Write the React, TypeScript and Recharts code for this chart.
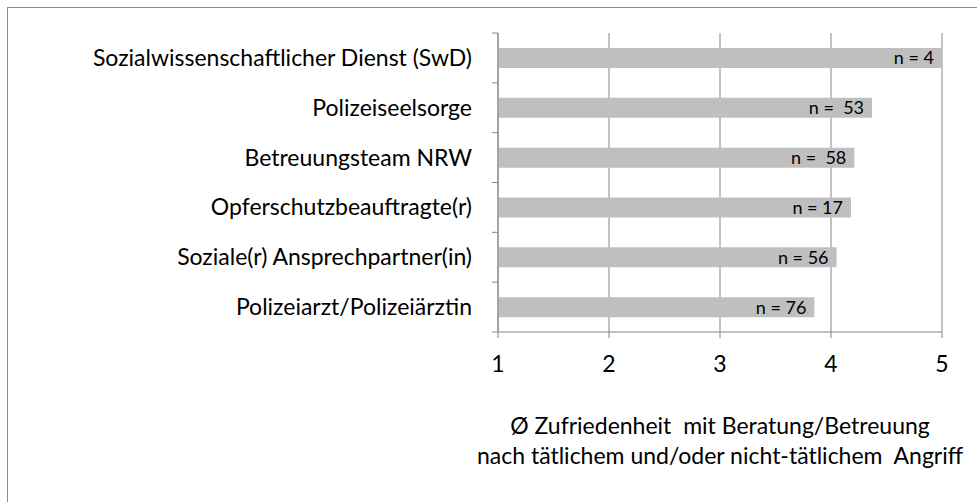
import { BarChart, Bar, XAxis, YAxis, CartesianGrid, LabelList } from 'recharts';

const categories = [
  'Sozialwissenschaftlicher Dienst (SwD)',
  'Polizeiseelsorge',
  'Betreuungsteam NRW',
  'Opferschutzbeauftragte(r)',
  'Soziale(r) Ansprechpartner(in)',
  'Polizeiarzt/Polizeiärztin',
];
const satisfaction = [5.0, 4.37, 4.21, 4.18, 4.05, 3.85];
const sampleLabels = ['n = 4', 'n = \u00A053', 'n = \u00A058', 'n = 17', 'n = 56', 'n = 76'];
const xTicks = [1, 2, 3, 4, 5];
const titleLines = [
  'Ø Zufriedenheit  mit Beratung/Betreuung',
  'nach tätlichem und/oder nicht-tätlichem  Angriff',
];

const FONT = 'Lato, "Open Sans", sans-serif';
const GRID = '#868686';
const TICK_SIZE = 6;
const Y_TICK_MARGIN = 20;

const data = categories.map((name, i) => ({
  name,
  value: satisfaction[i],
  n: sampleLabels[i],
}));

// category label + tick marks at the band edges (Excel style)
const CategoryTick = (props: any) => {
  const { x, y, payload } = props;
  const half = payload.offset ?? 0;
  const lx = x + Y_TICK_MARGIN;
  return (
    <g>
      <text x={x} y={y} dy={8} textAnchor="end" fontFamily={FONT} fontSize={23} fill="#000">
        {payload.value}
      </text>
      <line x1={lx} x2={lx + TICK_SIZE} y1={y + half} y2={y + half} stroke={GRID} />
      {payload.index === 0 && (
        <line x1={lx} x2={lx + TICK_SIZE} y1={y - half} y2={y - half} stroke={GRID} />
      )}
    </g>
  );
};

const AxisTitle = (props: any) => {
  const vb = props.viewBox || {};
  const cx = vb.x + vb.width / 2;
  const top = vb.y + vb.height;
  return (
    <text x={cx} textAnchor="middle" fontFamily={FONT} fontSize={23} fill="#000" style={{ whiteSpace: 'pre' }}>
      <tspan x={cx} y={top + 72}>{titleLines[0]}</tspan>
      <tspan x={cx} dy={30}>{titleLines[1]}</tspan>
    </text>
  );
};

export default function App() {
  return (
    <div style={{ position: 'relative', width: 977, height: 502, overflow: 'hidden', background: '#fff' }}>
      <style>{`body{margin:0}`}</style>
      <div
        style={{
          position: 'absolute',
          left: 7,
          top: 7,
          width: 1000,
          height: 600,
          border: '1px solid #8c8c8c',
        }}
      />
      <BarChart
        width={977}
        height={502}
        data={data}
        layout="vertical"
        margin={{ top: 33, right: 35, bottom: 140, left: 8 }}
        style={{ position: 'absolute', left: 0, top: 0 }}
      >
        <CartesianGrid horizontal={false} stroke={GRID} />
        <XAxis
          type="number"
          domain={[1, 5]}
          ticks={xTicks}
          height={30}
          stroke={GRID}
          tickSize={TICK_SIZE}
          tickMargin={18}
          tick={{ fill: '#000', fontSize: 23, fontFamily: FONT }}
          label={<AxisTitle />}
        />
        <YAxis
          type="category"
          dataKey="name"
          width={490}
          stroke={GRID}
          tickLine={false}
          tickSize={TICK_SIZE}
          tickMargin={Y_TICK_MARGIN}
          tick={<CategoryTick />}
          interval={0}
        />
        <Bar dataKey="value" fill="#BFBFBF" barSize={20} isAnimationActive={false}>
          <LabelList
            dataKey="n"
            position="insideRight"
            offset={8}
            fill="#000"
            fontSize={18}
            fontFamily={FONT}
          />
        </Bar>
      </BarChart>
    </div>
  );
}
